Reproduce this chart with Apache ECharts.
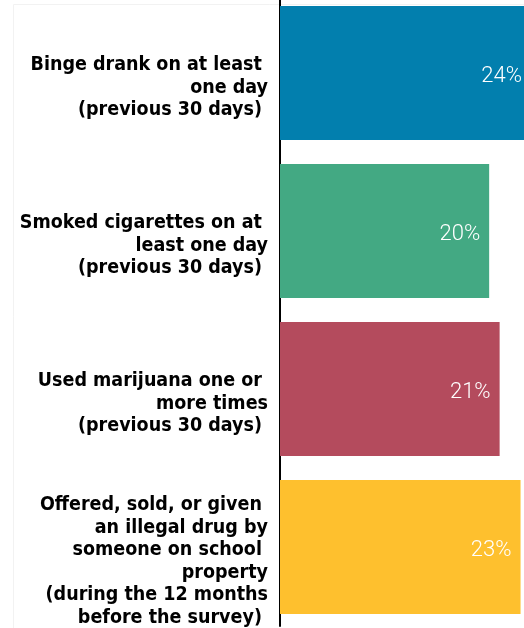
<!DOCTYPE html>
<html>
<head>
<meta charset="utf-8">
<script src="https://cdn.jsdelivr.net/npm/echarts@6/dist/echarts.min.js"></script>
<style>
html,body{margin:0;padding:0;background:#fff;}
#chart{width:524px;height:628px;}
</style>
</head>
<body>
<div id="chart"></div>
<script>
var categories = [
  "Binge drank on at least \none day\n(previous 30 days) ",
  "Smoked cigarettes on at \nleast one day\n(previous 30 days) ",
  "Used marijuana one or \nmore times\n(previous 30 days) ",
  "Offered, sold, or given \nan illegal drug by\nsomeone on school \nproperty\n(during the 12 months\nbefore the survey) "
];
var values = [24, 20, 21, 23];
var colors = ["#027FAE", "#43A983", "#B44B5D", "#FEC02E"];

var chart = echarts.init(document.getElementById('chart'), null, {renderer: 'canvas'});
chart.setOption({
  backgroundColor: '#ffffff',
  animation: false,
  graphic: [{
    type: 'rect',
    shape: {x: 13.5, y: 4.5, width: 600, height: 700},
    style: {fill: 'none', stroke: '#f2f2f2', lineWidth: 1},
    z: -1
  }],
  grid: {left: 280, right: -7, top: -6, bottom: 2, containLabel: false, outerBoundsMode: 'none'},
  xAxis: {
    type: 'value', min: 0, max: 24, show: false
  },
  yAxis: {
    type: 'category',
    data: categories,
    inverse: true,
    axisLine: {show: true, lineStyle: {color: '#000', width: 2}},
    axisTick: {show: false},
    splitLine: {show: false},
    axisLabel: {
      margin: 12,
      color: '#000',
      fontFamily: '"Liberation Sans Narrow", "DejaVu Sans Condensed", sans-serif',
      fontWeight: 'bold',
      fontSize: 19.5,
      lineHeight: 22.5,
      align: 'right',
      formatter: function (v) { return '{sp| }\n' + v; },
      rich: {
        sp: {lineHeight: 29, fontSize: 4}
      }
    }
  },
  series: [{
    type: 'bar',
    data: values.map(function (v, i) { return {value: v, itemStyle: {color: colors[i]}}; }),
    barWidth: 134,
    label: {
      show: true,
      position: 'insideRight',
      distance: 9,
      offset: [0, 3],
      formatter: '{c}%',
      color: '#fff',
      fontFamily: 'Roboto, "Open Sans", sans-serif',
      fontWeight: 300,
      fontSize: 22
    }
  }]
});
</script>
</body>
</html>
